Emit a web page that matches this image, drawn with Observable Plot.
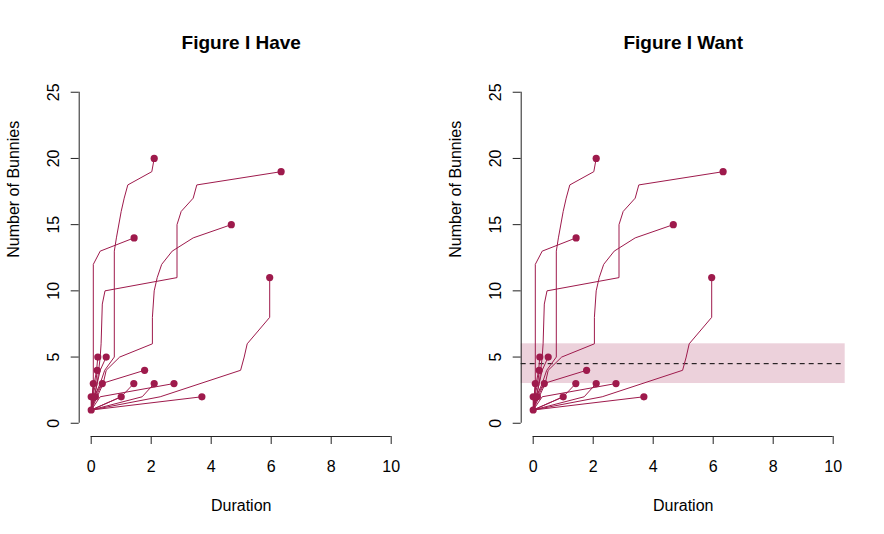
<!DOCTYPE html>
<html><head><meta charset="utf-8">
<script src="https://cdn.jsdelivr.net/npm/d3@7"></script>
<script src="https://cdn.jsdelivr.net/npm/@observablehq/plot@0.6"></script>
<style>
body{margin:0;background:#fff;}
#wrap{display:flex;width:884px;height:534px;overflow:hidden;}
</style></head><body><div id="wrap"></div>
<script>
const panelTitles = ["Figure I Have", "Figure I Want"];
const xLabel = "Duration";
const yLabel = "Number of Bunnies";
const xTicks = [0, 2, 4, 6, 8, 10];
const yTicks = [0, 5, 10, 15, 20, 25];
const xDomain = [-0.4, 10.4];
const yDomain = [-1, 26];

// one trajectory per bunny: durations and cumulative counts
const durations = [
  [0, 0.1, 0.3, 0.45, 0.77, 0.77, 0.84, 1.0, 1.1, 1.22, 2.02, 2.1],
  [0, 0.1, 0.2, 0.3, 0.33, 0.37, 0.46, 2.86, 2.86, 3.0, 3.4, 3.52, 6.33],
  [0, 0.2, 0.4, 0.5, 0.95, 2.04, 2.04, 2.1, 2.2, 2.35, 2.7, 3.4, 4.67],
  [0, 0.05, 0.07, 0.07, 0.3, 1.43],
  [0, 2.3, 4.98, 5.1, 5.2, 5.95, 5.95],
  [0, 0.03, 0.1, 0.18, 0.22],
  [0, 0.1, 0.2, 0.3, 0.5],
  [0, 0.1, 0.35, 1.78],
  [0, 0.05, 0.15, 0.2],
  [0, 0.03, 0.07],
  [0, 0.15, 0.37],
  [0, 1.0, 1.42],
  [0, 1.7, 2.1],
  [0, 0.3, 2.76],
  [0, 0],
  [0, 0.14],
  [0, 1.0],
  [0, 3.69],
  [0]
];
const counts = [
  [1, 2, 3, 4, 5, 13, 14, 16, 17, 18, 19, 20],
  [1, 2, 3, 5, 6, 9, 10, 11, 15, 16, 17, 18, 19],
  [1, 2, 3, 4, 5, 6, 8, 10, 11, 12, 13, 14, 15],
  [1, 2, 3, 12, 13, 14],
  [1, 2, 4, 5, 6, 8, 11],
  [1, 2, 3, 4, 5],
  [1, 2, 3, 4, 5],
  [1, 2, 3, 4],
  [1, 2, 3, 4],
  [1, 2, 3],
  [1, 2, 3],
  [1, 2, 3],
  [1, 2, 3],
  [1, 2, 3],
  [1, 2],
  [1, 2],
  [1, 2],
  [1, 2],
  [1]
];
const bandLow = 3, bandHigh = 6, bandMid = 4.5;

const color = "#9e1a4c";
const rows = durations.flatMap((ds, i) => ds.map((d, j) => ({id: i, duration: d, count: counts[i][j]})));
const ends = durations.map((ds, i) => ({duration: ds[ds.length - 1], count: counts[i][counts[i].length - 1]}));

function panel(title, withBand) {
  const marks = [];
  if (withBand) {
    marks.push(Plot.rect([{lo: bandLow, hi: bandHigh}], {y1: "lo", y2: "hi", fill: color, fillOpacity: 0.2}));
    marks.push(Plot.ruleY([bandMid], {stroke: "#000", strokeWidth: 1, strokeDasharray: "5,4"}));
  }
  marks.push(
    Plot.line(rows, {x: "duration", y: "count", z: "id", stroke: color, strokeWidth: 1}),
    Plot.dot(ends, {x: "duration", y: "count", r: 3.6, fill: color, stroke: "none"}),
    Plot.ruleX([xDomain[0]], {y1: yTicks[0], y2: yTicks[yTicks.length - 1], stroke: "#222"}),
    Plot.ruleY([yDomain[0]], {x1: xTicks[0], x2: xTicks[xTicks.length - 1], stroke: "#222"}),
    Plot.axisX({ticks: xTicks, tickSize: 8, tickPadding: 16, fontSize: 16, label: null, stroke: "#222"}),
    Plot.axisY({ticks: yTicks, tickSize: 8, tickPadding: 12, tickRotate: -90, fontSize: 16, label: null, stroke: "#222"}),
    Plot.text([xLabel], {frameAnchor: "bottom", dy: 74, text: d => d, fontSize: 16}),
    Plot.text([yLabel], {frameAnchor: "left", dx: -65, rotate: -90, text: d => d, fontSize: 16}),
    Plot.text([title], {frameAnchor: "top", dy: -44, text: d => d, fontSize: 19, fontWeight: "bold"})
  );
  return Plot.plot({
    width: 442, height: 534,
    marginLeft: 78.7, marginRight: 39.3, marginTop: 78.5, marginBottom: 98,
    x: {domain: xDomain},
    y: {domain: yDomain},
    style: {fontFamily: "'Liberation Sans', Arial, Helvetica, sans-serif", fontSize: "16px", background: "#fff", color: "#000", overflow: "visible"},
    marks
  });
}
const wrap = document.getElementById("wrap");
wrap.appendChild(panel(panelTitles[0], false));
wrap.appendChild(panel(panelTitles[1], true));
</script></body></html>
